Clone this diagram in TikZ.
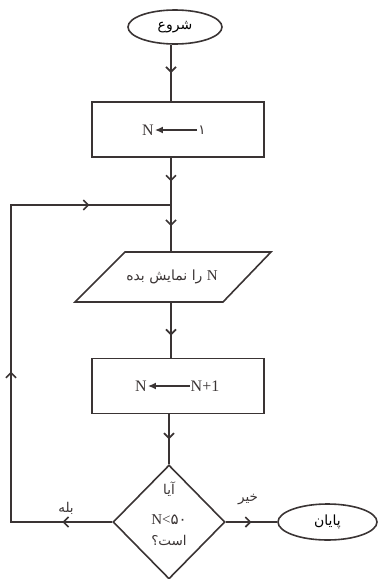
\documentclass[tikz,border=0pt]{standalone}
\usepackage{fontspec}
\setmainfont{Liberation Serif}
\newfontfamily\arabicfont[Script=Arabic]{DejaVu Sans}
\newfontfamily\latinfont{Liberation Serif}
\TeXXeTstate=1
\usetikzlibrary{shapes.geometric,arrows.meta,decorations.markings}
\definecolor{ink}{HTML}{3A3434}
\tikzset{
  ln/.style={draw=ink, line width=1.6pt},
  marrow/.style={postaction={decorate},decoration={markings,
     mark=at position #1 with {\arrow[ink]{Straight Barb[length=5pt,width=10pt]}}}},
  termbox/.style={ellipse, ln, inner sep=0pt, font=\arabicfont\fontsize{14}{16}\selectfont},
  procbox/.style={rectangle, ln, minimum width=172pt, minimum height=55pt, inner sep=0pt},
  txt/.style={inner sep=1pt, text=ink, font=\fontsize{16}{18}\selectfont},
  atxt/.style={inner sep=1pt, text=ink, font=\arabicfont\fontsize{13.5}{16}\selectfont},
  txtarrow/.style={draw=ink, line width=1.4pt, -{Latex[length=8pt,width=7pt]}}
}
\begin{document}
\begin{tikzpicture}[x=1pt,y=-1pt]
\useasboundingbox (0,0) rectangle (378,579);
\coordinate (sp) at (171,0);

% start
\node[termbox, minimum width=94pt, minimum height=34pt] (start) at (175,27) {\beginR شروع\endR};

% box 1
\node[procbox] (box1) at (178,129.5) {};
\node[txt] (n1) at (148,130) {N};
\node[atxt] (one) at (202,130) {۱};
\draw[txtarrow] (one.west) -- (n1.east);

% junction
\coordinate (j) at (171,205);

% parallelogram (display)
\node[minimum width=146pt, minimum height=50pt, inner sep=0pt] (para) at (173,277) {};
\draw[ln, line join=miter] (125,252) -- (271,252) -- (223,302) -- (75,302) -- cycle;
\node[atxt, font=\arabicfont\fontsize{14}{16}\selectfont] (ptext) at (172,277) {\beginR{\latinfont\fontsize{15}{16}\selectfont N} را نمایش بده\endR};

% box 2
\node[procbox] (box2) at (178,386) {};
\node[txt] (n2) at (141,386) {N};
\node[txt] (n2p) at (205,386) {N+1};
\draw[txtarrow] (n2p.west) -- (n2.east);

% decision
\node[diamond, ln, aspect=1, minimum width=112pt, minimum height=114pt, inner sep=0pt] (dec) at (169,522) {};
\node[atxt] (q1) at (169,489) {\beginR آیا\endR};
\node[txt, font=\fontsize{15}{17}\selectfont] (q2) at (169,520) {N<{\arabicfont ۵۰}};
\node[atxt] (q3) at (169,540) {\beginR است؟\endR};

% end
\node[termbox, minimum width=99pt, minimum height=36pt] (stop) at (327.5,522) {\beginR پایان\endR};

% labels
\node[atxt] (yes) at (66,508) {\beginR بله\endR};
\node[atxt] (no) at (248,500) {\beginR خیر\endR};

% loop corners
\coordinate (lc2) at (11,522);
\coordinate (lc1) at (11,205);

% connectors
\draw[ln, marrow=0.5] (start.south -| sp) -- (box1.north -| sp);
\draw[ln, marrow=0.5] (box1.south -| sp) -- (j);
\draw[ln, marrow=0.45] (j) -- (para.north -| sp);
\draw[ln, marrow=0.6] (para.south -| sp) -- (box2.north -| sp);
\draw[ln, marrow=0.5] (box2.south -| dec.north) -- (dec.north);
\draw[ln, marrow=0.5] (dec.east) -- (stop.west);
\draw[ln, line join=miter,
  postaction={decorate},
  decoration={markings,
    mark=at position 0.086 with {\arrow[ink]{Straight Barb[length=5pt,width=10pt]}},
    mark=at position 0.435 with {\arrow[ink]{Straight Barb[length=5pt,width=10pt]}},
    mark=at position 0.859 with {\arrow[ink]{Straight Barb[length=5pt,width=10pt]}}}]
  (dec.west) -- (lc2) -- (lc1) -- (j);
\end{tikzpicture}
\end{document}
